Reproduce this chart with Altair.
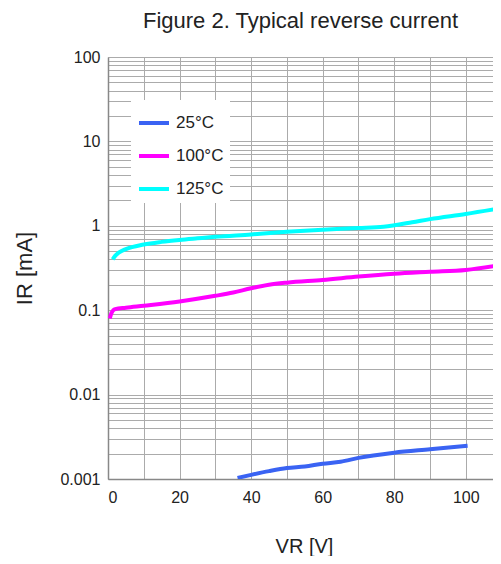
import altair as alt
import pandas as pd

# ---- data ----
vr_25 = [36.2, 40, 45, 50, 55, 60, 65, 70, 80, 90, 100.5]
ir_25 = [0.00103, 0.00112, 0.00124, 0.00135, 0.00141, 0.00152, 0.0016, 0.00178, 0.00205, 0.00225, 0.00248]

vr_100 = [0.5, 1, 2, 5, 10, 20, 30, 35, 40, 45, 50, 60, 70, 80, 90, 100, 110]
ir_100 = [0.080, 0.093, 0.103, 0.107, 0.113, 0.127, 0.148, 0.162, 0.182, 0.2, 0.212, 0.228, 0.25, 0.27, 0.285, 0.30, 0.345]

vr_125 = [1.3, 2, 3, 5, 10, 15, 20, 25, 30, 40, 50, 60, 70, 77, 85, 90, 100, 110]
ir_125 = [0.40, 0.44, 0.48, 0.53, 0.60, 0.645, 0.68, 0.71, 0.74, 0.79, 0.85, 0.90, 0.94, 0.975, 1.1, 1.2, 1.38, 1.62]

series_names = ["25°C", "100°C", "125°C"]
series_colors = ["#3a63f3", "#ff00ff", "#00ffff"]

x_grid_values = [0, 10, 20, 30, 40, 50, 60, 70, 80, 90, 100]
y_grid_values = [round(m * d, 6) for d in [0.001, 0.01, 0.1, 1, 10] for m in range(1, 10)] + [100]

rows = []
for name, xs, ys in [(series_names[0], vr_25, ir_25),
                     (series_names[1], vr_100, ir_100),
                     (series_names[2], vr_125, ir_125)]:
    for i, (x, y) in enumerate(zip(xs, ys)):
        rows.append({"series": name, "VR": x, "IR": y, "order": i})
df = pd.DataFrame(rows)

font = "Liberation Sans"

chart = alt.Chart(df).mark_line(strokeWidth=4, interpolate="monotone", clip=True).encode(
    x=alt.X("VR:Q",
            scale=alt.Scale(domain=[0, 107.6], nice=False, zero=False),
            axis=alt.Axis(values=x_grid_values,
                          labelExpr="datum.value % 20 == 0 ? datum.label : ''",
                          title="VR [V]", titleFontSize=20, titleFontWeight="normal",
                          titleX=196, titleY=67, titleBaseline="middle",
                          labelFontSize=16, labelPadding=10, ticks=False, tickSize=0,
                          grid=True, gridColor="#ababab", gridWidth=1,
                          domainColor="#888888", domainWidth=1.5,
                          labelColor="#222222", titleColor="#222222",
                          labelFont=font, titleFont=font, labelOverlap=False)),
    y=alt.Y("IR:Q",
            scale=alt.Scale(type="log", domain=[0.001, 100], nice=False),
            axis=alt.Axis(values=y_grid_values,
                          format="~g",
                          labelExpr="indexof(['0.001','0.01','0.1','1','10','100'], datum.label) >= 0 ? datum.label : ''",
                          title="IR [mA]", titleFontSize=22, titleFontWeight="normal",
                          titleX=-84, titleY=211, titleAngle=-90, titleBaseline="middle", titleAlign="center",
                          labelFontSize=16, labelPadding=8, ticks=False, tickSize=0,
                          grid=True, gridColor="#ababab", gridWidth=1,
                          domainColor="#888888", domainWidth=1.5,
                          labelColor="#222222", titleColor="#222222",
                          labelFont=font, titleFont=font, labelOverlap=False)),
    color=alt.Color("series:N",
                    scale=alt.Scale(domain=series_names, range=series_colors),
                    legend=alt.Legend(title=None, orient="none", legendX=23, legendY=43,
                                      fillColor="white", padding=6,
                                      symbolType="stroke", symbolSize=900, symbolStrokeWidth=4,
                                      labelFontSize=17, labelFont=font, labelColor="#222222",
                                      labelOffset=5, rowPadding=8)),
    order="order:Q",
    detail="series:N",
).properties(
    width=385,
    height=422,
    title=alt.TitleParams("Figure 2. Typical reverse current", fontSize=22, font=font,
                          fontWeight="normal", color="#222222", offset=16, anchor="middle"),
    autosize=alt.AutoSizeParams(type="none"),
    padding={"left": 100, "top": 49, "right": 0, "bottom": 77},
).configure_view(stroke=None).configure(background="white")

chart.save("out.html", embed_options={"renderer": "svg", "actions": False})
